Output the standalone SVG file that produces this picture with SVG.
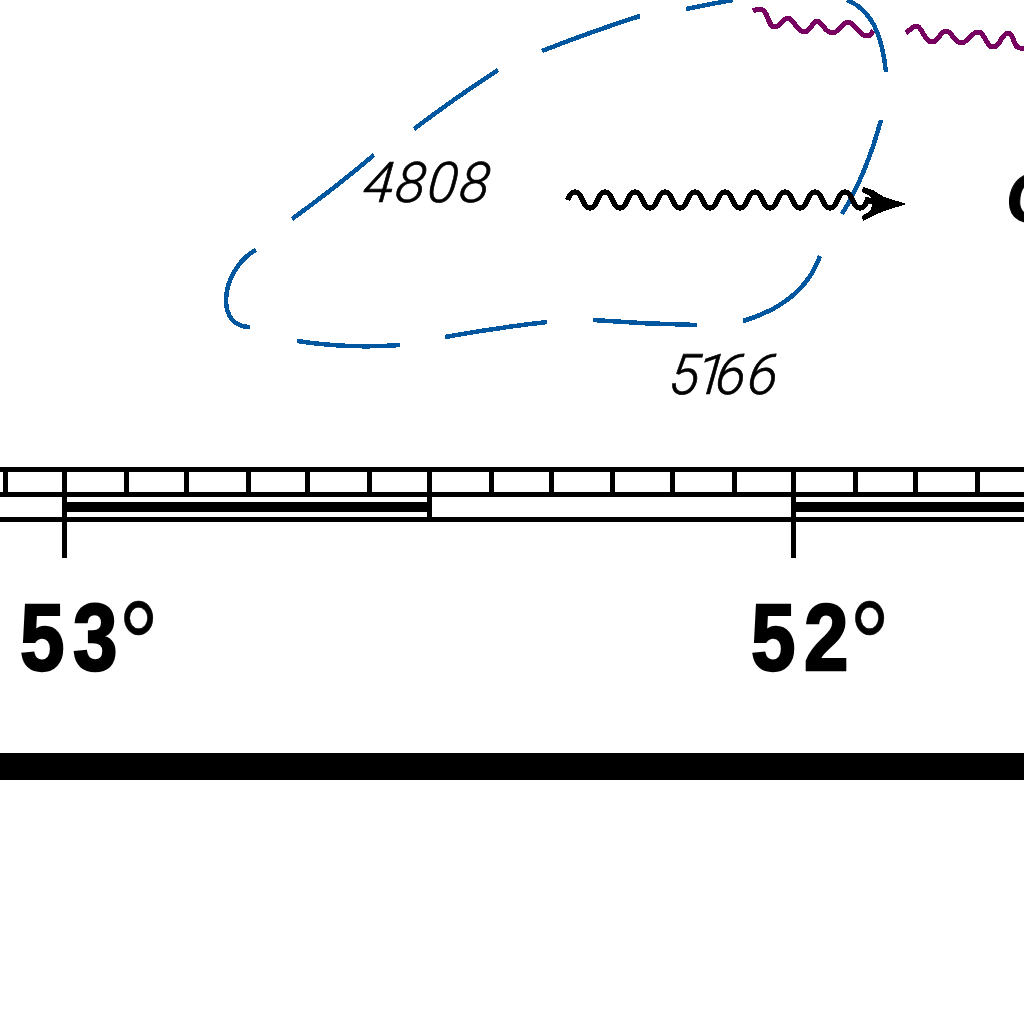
<svg xmlns="http://www.w3.org/2000/svg" width="1024" height="1024" viewBox="0 0 1024 1024">
<style>
.k{stroke:#000;stroke-width:5;fill:none}
.b{stroke:#0057a0;stroke-width:4.500;fill:none}
.p{stroke:#770060;stroke-width:5;fill:none;stroke-linejoin:round}
.w{stroke:#000;stroke-width:5.500;fill:none}
.l{font-family:"Roboto","Liberation Sans",sans-serif;font-style:italic;font-weight:300;font-size:56px;fill:#000;stroke:#000;stroke-width:.7px}
.d{font-family:"Liberation Sans",sans-serif;font-weight:700;font-size:94px;fill:#000;letter-spacing:10px;stroke:#000;stroke-width:2.500px}
.r{font-family:"Liberation Sans",sans-serif;font-weight:400;letter-spacing:0;stroke-width:.5px}
</style>
<rect width="1024" height="1024" fill="#fff"/>
<g id="scale" shape-rendering="crispEdges">
<path class="k" d="M0 469.500H1024M0 494.500H1024M0 519.500H1024"/>
<path class="k" d="M5.500 469.500V494.500M126.500 469.500V494.500M186.500 469.500V494.500M248.500 469.500V494.500M307.500 469.500V494.500M369.500 469.500V494.500M491.500 469.500V494.500M551.500 469.500V494.500M612.500 469.500V494.500M672.500 469.500V494.500M734.500 469.500V494.500M855.500 469.500V494.500M915.500 469.500V494.500M977.500 469.500V494.500"/>
<path class="k" d="M64.500 467V558M429.500 467V520M793.500 467V558"/>
<rect x="64" y="502" width="365" height="10"/>
<rect x="793" y="502" width="231" height="10"/>
<rect x="0" y="753" width="1024" height="27"/>
</g>
<g id="isoline" shape-rendering="crispEdges">
<path class="b" d="M686 9Q710 4 733 0"/>
<path class="b" d="M542 51Q590 32 640 16"/>
<path class="b" d="M414 129Q455 98 498 70"/>
<path class="b" d="M292 219Q335 188 374 155"/>
<path class="b" d="M256 250C240 258 226 280 226 300C226 318 236 327 250 327"/>
<path class="b" d="M297 341Q350 349 400 345"/>
<path class="b" d="M445 337Q495 328 547 322"/>
<path class="b" d="M593 320Q645 324 697 325"/>
<path class="b" d="M743 321C780 310 808 290 820 256"/>
<path class="b" d="M842 214Q866 175 881 120"/>
<path class="b" d="M847 0C872 10 882 35 886 72"/>
</g>
<g id="flows" shape-rendering="crispEdges">
<path class="p" d="M753 11C758 8 763 8 766 14S770 27 775 27S783 18 788 18S797 32 804 32S812 21 817 21S825 33 832 33S842 22 848 22S860 36 866 36S871 33 873 31"/>
<path class="p" d="M906 33C910 30 913 26 917 26S925 42 932 42S940 31 946 31S954 43 961 43S971 32 978 32S986 47 993 47S1002 33 1008 33S1013 48 1020 48L1024 48"/>
<path class="w" d="M567.500 200c4 -10.500 11 -10.500 15 0s11 10.500 15 0s11 -10.500 15 0s11 10.500 15 0s11 -10.500 15 0s11 10.500 15 0s11 -10.500 15 0s11 10.500 15 0s11 -10.500 15 0s11 10.500 15 0s11 -10.500 15 0s11 10.500 15 0s11 -10.500 15 0s11 10.500 15 0s11 -10.500 15 0s11 10.500 15 0s11 -10.500 15 0s11 10.500 15 0s11 -10.500 15 0s11 10.500 15 0L878 204"/>
<path d="M863 187L873 190L884 197L907 204L884 211L873 216L863 221L862 216L870 211L873 204L870 196L862 192Z" fill="#000"/>
</g>
<g id="labels">
<text class="l" transform="translate(362 202) skewX(-6)" x="0 32 64 96">4808</text>
<text class="l" transform="translate(668 394) skewX(-6)" x="0 26 46 78">5166</text>
<text class="d" transform="translate(20 670) scale(.85 1)">53<tspan class="r" font-size="120" dy="16" dx="-9">°</tspan></text>
<text class="d" transform="translate(751 670) scale(.85 1)">52<tspan class="r" font-size="120" dy="16" dx="-9">°</tspan></text>
<text x="1006" y="222" font-family="Liberation Sans,sans-serif" font-weight="700" font-style="italic" font-size="70" stroke="#000" stroke-width="1">C</text>
</g>
</svg>
